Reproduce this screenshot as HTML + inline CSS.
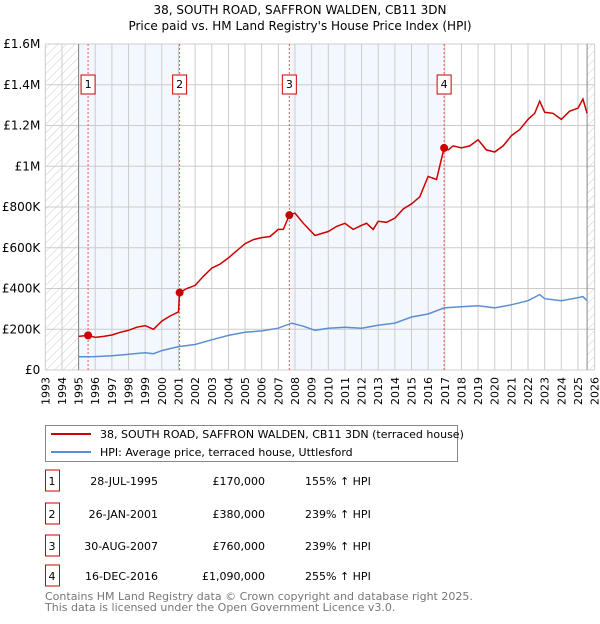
<!DOCTYPE html>
<html><head><meta charset="utf-8"><style>
body{margin:0;background:#fff;font-family:"DejaVu Sans","Liberation Sans",sans-serif;}
svg text{font-family:"DejaVu Sans","Liberation Sans",sans-serif;}
</style></head><body>
<svg id="chart" width="600" height="620" viewBox="0 0 600 620" xmlns="http://www.w3.org/2000/svg">
<defs><pattern id="hatch" width="6" height="6" patternUnits="userSpaceOnUse" patternTransform="rotate(45)"><line x1="0" y1="0" x2="0" y2="6" stroke="#ccc" stroke-width="1"/></pattern></defs>
<text x="300" y="14" text-anchor="middle" font-size="12">38, SOUTH ROAD, SAFFRON WALDEN, CB11 3DN</text>
<text x="300" y="30" text-anchor="middle" font-size="12">Price paid vs. HM Land Registry's House Price Index (HPI)</text>
<g id="plot"></g>
<g>
<rect x="45.5" y="425.5" width="412" height="36" fill="#fff" stroke="#888"/>
<line x1="51" y1="434" x2="91" y2="434" stroke="#cc0000" stroke-width="2"/>
<text x="100" y="438" font-size="11">38, SOUTH ROAD, SAFFRON WALDEN, CB11 3DN (terraced house)</text>
<line x1="51" y1="452" x2="91" y2="452" stroke="#5b8fd4" stroke-width="2"/>
<text x="100" y="456" font-size="11">HPI: Average price, terraced house, Uttlesford</text>
</g>
<g id="table"></g>
<text x="45" y="600" font-size="11" fill="#777">Contains HM Land Registry data © Crown copyright and database right 2025.</text>
<text x="45" y="611" font-size="11" fill="#777">This data is licensed under the Open Government Licence v3.0.</text>
</svg>
<script>
const yTicks=[0,200000,400000,600000,800000,1000000,1200000,1400000,1600000];
const yTickLabels=["£0","£200K","£400K","£600K","£800K","£1M","£1.2M","£1.4M","£1.6M"];
const years=[1993,1994,1995,1996,1997,1998,1999,2000,2001,2002,2003,2004,2005,2006,2007,2008,2009,2010,2011,2012,2013,2014,2015,2016,2017,2018,2019,2020,2021,2022,2023,2024,2025,2026];
const saleDates=[1995.57,2001.07,2007.66,2016.96];
const salePrices=[170000,380000,760000,1090000];
const saleLabels=["1","2","3","4"];
const saleDateText=["28-JUL-1995","26-JAN-2001","30-AUG-2007","16-DEC-2016"];
const salePriceText=["£170,000","£380,000","£760,000","£1,090,000"];
const saleHpiText=["155% ↑ HPI","239% ↑ HPI","239% ↑ HPI","255% ↑ HPI"];
const redT=[1995.0,1995.57,1996,1996.5,1997,1997.5,1998,1998.5,1999,1999.5,2000,2000.5,2001.0,2001.07,2001.5,2002,2002.5,2003,2003.5,2004,2004.5,2005,2005.5,2006,2006.5,2007,2007.3,2007.66,2008,2008.5,2009.2,2009.6,2010,2010.5,2011,2011.5,2012,2012.3,2012.7,2013,2013.5,2014,2014.5,2015,2015.5,2016,2016.5,2016.96,2017.2,2017.5,2018,2018.5,2019,2019.5,2020,2020.5,2021,2021.5,2022,2022.4,2022.7,2023,2023.5,2024,2024.5,2025.0,2025.3,2025.55];
const redV=[165000,170000,160000,165000,172000,185000,195000,210000,218000,200000,240000,265000,285000,380000,400000,415000,460000,500000,520000,550000,585000,620000,640000,650000,655000,690000,690000,760000,770000,720000,660000,670000,680000,705000,720000,690000,710000,720000,690000,730000,725000,745000,790000,815000,850000,950000,935000,1090000,1080000,1100000,1090000,1100000,1130000,1080000,1070000,1100000,1150000,1180000,1230000,1260000,1320000,1265000,1260000,1230000,1270000,1285000,1330000,1260000];
const blueT=[1995.0,1996,1997,1998,1999,1999.5,2000,2001,2002,2003,2004,2005,2006,2007,2007.8,2008.5,2009.2,2010,2011,2012,2013,2014,2015,2016,2016.96,2018,2019,2020,2021,2022,2022.7,2023,2024,2025.0,2025.3,2025.55];
const blueV=[65000,66000,70000,77000,85000,80000,95000,115000,125000,148000,170000,185000,192000,205000,230000,215000,195000,205000,210000,205000,220000,230000,260000,275000,305000,310000,315000,305000,320000,340000,370000,350000,340000,355000,360000,340000];
const X0=45.3,X1=594.6,Y0=370,Y1=44,xMin=1993,xMax=2026,yMax=1600000;
const xs=t=>X0+(t-xMin)/(xMax-xMin)*(X1-X0);
const ys=v=>Y0-v/yMax*(Y0-Y1);
const NS="http://www.w3.org/2000/svg";
const plot=document.getElementById('plot');
function mk(tag,attrs,parent){const e=document.createElementNS(NS,tag);for(const k in attrs)e.setAttribute(k,attrs[k]);(parent||plot).appendChild(e);return e;}
let r=mk('rect',{x:xs(1995),y:Y1,width:xs(saleDates[1])-xs(1995),height:Y0-Y1,fill:'#eef3fd',opacity:0.7});


r=mk('rect',{x:xs(saleDates[2]),y:Y1,width:xs(saleDates[3])-xs(saleDates[2]),height:Y0-Y1,fill:'#eef3fd',opacity:0.7});


r=mk('rect',{x:X0,y:Y1,width:xs(1995)-X0,height:Y0-Y1,fill:'url(#hatch)'});


r=mk('rect',{x:xs(2025.55),y:Y1,width:X1-xs(2025.55),height:Y0-Y1,fill:'url(#hatch)'});


years.forEach(y=>{const l=mk('line',{x1:xs(y),x2:xs(y),y1:Y1,y2:Y0,stroke:'#ccc','stroke-width':1});


const t=mk('text',{x:0,y:0,'font-size':11,'text-anchor':'end',transform:`translate(${xs(y)+4},${Y0+7}) rotate(-90)`});t.textContent=y;

});
yTicks.forEach((v,i)=>{const l=mk('line',{x1:X0,x2:X1,y1:ys(v),y2:ys(v),stroke:'#ccc','stroke-width':1});


const t=mk('text',{x:X0-5,y:ys(v)+4,'font-size':12,'text-anchor':'end'});t.textContent=yTickLabels[i];

});
let b=mk('line',{x1:xs(1995),x2:xs(1995),y1:Y1,y2:Y0,stroke:'#888'});


b=mk('line',{x1:xs(2025.55),x2:xs(2025.55),y1:Y1,y2:Y0,stroke:'#888'});


saleDates.forEach((d,i)=>{const l=mk('line',{x1:xs(d),x2:xs(d),y1:Y1,y2:Y0,stroke:'#e55','stroke-width':1,'stroke-dasharray':'2,2'});


const bx=mk('rect',{x:xs(d)-7,y:75,width:14,height:19,fill:'#fff',stroke:'#cc0000'});


const t=mk('text',{x:xs(d),y:88,'font-size':11,'text-anchor':'middle'});t.textContent=saleLabels[i];

});
const pts=(T,V)=>T.map((t,i)=>xs(t).toFixed(1)+','+ys(V[i]).toFixed(1)).join(' ');
let pl=mk('polyline',{points:pts(blueT,blueV),fill:'none',stroke:'#5b8fd4','stroke-width':1.5});


pl=mk('polyline',{points:pts(redT,redV),fill:'none',stroke:'#cc0000','stroke-width':1.5});


saleDates.forEach((d,i)=>{const c=mk('circle',{cx:xs(d),cy:ys(salePrices[i]),r:4,fill:'#cc0000'});

});
const tb=document.getElementById('table');
const rowY=[481,514,546,576];
saleLabels.forEach((s,i)=>{const y=rowY[i];
const bx=mk('rect',{x:45.5,y:y-11,width:14,height:21,fill:'#fff',stroke:'#cc0000'},tb);


const cells=[[52,s,'middle'],[158,saleDateText[i],'end'],[265,salePriceText[i],'end'],[305,saleHpiText[i],'start']];
cells.forEach(c=>{const t=mk('text',{x:c[0],y:y+4,'font-size':11,'text-anchor':c[2]},tb);t.textContent=c[1];

});});
</script>
</body></html>
